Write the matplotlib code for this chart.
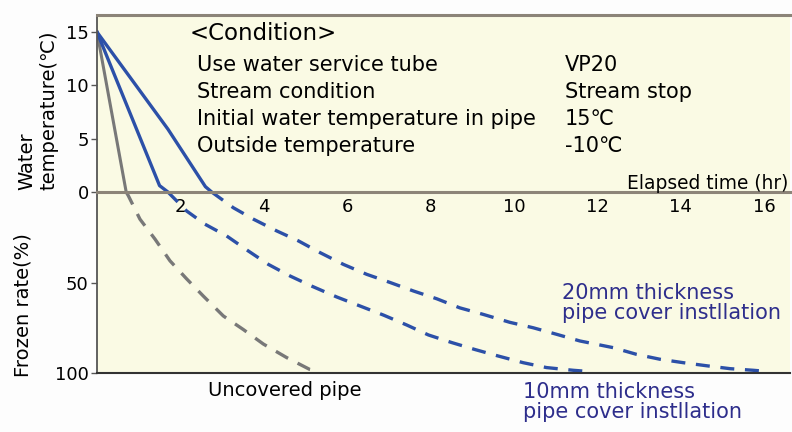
import matplotlib.pyplot as plt

# water temperature (solid) until the pipe reaches 0 C
uncovered_temp_t = [0.0, 0.7]
uncovered_temp = [15, 0]
mm10_temp_t = [0.0, 1.5, 1.7]
mm10_temp = [15, 0.6, 0]
mm20_temp_t = [0.0, 1.7, 2.6, 2.75]
mm20_temp = [15, 5.9, 0.5, 0]

# frozen rate (dashed) after 0 C
uncovered_frozen_t = [0.7, 0.75, 1.03, 1.39, 1.75, 2.15, 2.55, 3.03, 3.51, 3.99, 4.55, 5.1, 5.3]
uncovered_frozen = [0, 2, 15, 26, 38, 48, 57.5, 68.5, 76, 84, 91.5, 98, 99]
mm10_frozen_t = [1.7, 2.15, 2.59, 3.11, 3.63, 4.11, 4.63, 5.15, 5.75, 6.31, 6.87, 7.43, 7.95,
                 8.51, 9.06, 9.62, 10.22, 10.78, 11.42, 11.7]
mm10_frozen = [0, 10.5, 17.8, 24.3, 32.6, 40, 46.4, 52, 58, 63, 68, 73.5, 79,
               83.2, 87, 90.6, 94.3, 97, 98.5, 99]
mm20_frozen_t = [2.75, 3.27, 3.75, 4.31, 4.83, 5.35, 5.91, 6.47, 7.03, 7.59, 8.15, 8.7, 9.26,
                 9.9, 10.46, 11.02, 11.58, 12.38, 12.94, 13.5, 14.06, 14.62, 15.18, 15.74, 16.0]
mm20_frozen = [0, 8.7, 15, 21.5, 27, 33.5, 40, 45.5, 50, 54.7, 59, 64, 67.6,
               72, 75, 78.6, 82.3, 86, 89.7, 92.4, 94.3, 96, 97.6, 98.5, 99]

time_ticks = [2, 4, 6, 8, 10, 12, 14, 16]
temp_ticks = [0, 5, 10, 15]
frozen_ticks = [50, 100]

condition_items = ["Use water service tube", "Stream condition",
                   "Initial water temperature in pipe", "Outside temperature"]
condition_values = ["VP20", "Stream stop", "15℃", "-10℃"]

BLUE = "#2c50a8"
GRAY = "#787878"
NAVY = "#2e2e8c"
PANEL = "#fafae4"
BORDER = "#8c8478"

W, H = 792, 432


def fx(x):
    return x / W


def fy(y):
    return 1 - y / H


plt.rcParams["font.family"] = ["DejaVu Sans"]
fig = plt.figure(figsize=(W / 100, H / 100), dpi=100)
fig.patch.set_facecolor("#fdfdfd")

left, right = 97, 790
ax_t = fig.add_axes([fx(left), fy(192), (right - left) / W, (192 - 15) / H])
ax_f = fig.add_axes([fx(left), fy(373), (right - left) / W, (373 - 192) / H])
ax_f.set_zorder(1)
ax_t.set_zorder(2)

for ax in (ax_t, ax_f):
    ax.set_facecolor(PANEL)
    ax.set_xlim(0, 16.62)
    ax.spines["right"].set_visible(False)
    ax.spines["left"].set_color("#555555")
    ax.spines["left"].set_linewidth(1.3)
    ax.tick_params(axis="y", direction="out", length=4, width=1, color="#555555",
                   pad=2, labelsize=13)

ax_t.set_ylim(0, 16.6)
ax_t.spines["top"].set_color(BORDER)
ax_t.spines["top"].set_linewidth(2.2)
ax_t.spines["bottom"].set_color(BORDER)
ax_t.spines["bottom"].set_linewidth(2.2)
ax_t.set_xticks([])
ax_t.set_yticks(temp_ticks)
ax_t.set_yticklabels([str(v) for v in temp_ticks])

ax_f.set_ylim(100, 0)
ax_f.spines["top"].set_visible(False)
ax_f.spines["bottom"].set_color("#333333")
ax_f.spines["bottom"].set_linewidth(1.5)
ax_f.set_yticks(frozen_ticks)
ax_f.set_yticklabels([str(v) for v in frozen_ticks])
ax_f.set_xticks(time_ticks)
ax_f.set_xticklabels([str(v) for v in time_ticks])
ax_f.tick_params(axis="x", top=True, labeltop=True, bottom=False, labelbottom=False,
                 length=0, pad=-17, labelsize=13)

ax_t.plot(uncovered_temp_t, uncovered_temp, color=GRAY, lw=2.2)
ax_t.plot(mm10_temp_t, mm10_temp, color=BLUE, lw=2.4)
ax_t.plot(mm20_temp_t, mm20_temp, color=BLUE, lw=2.4)

dash = (4.2, 3.2)
ax_f.plot(uncovered_frozen_t, uncovered_frozen, color=GRAY, lw=2.4, dashes=dash,
          clip_on=False)
ax_f.plot(mm10_frozen_t, mm10_frozen, color=BLUE, lw=2.4, dashes=dash, clip_on=False)
ax_f.plot(mm20_frozen_t, mm20_frozen, color=BLUE, lw=2.4, dashes=dash, clip_on=False)

# condition block
fig.text(fx(190), fy(33), "<Condition>", fontsize=16.5, va="center", ha="left")
row_y = [65, 92, 119, 146]
for y, item, value in zip(row_y, condition_items, condition_values):
    fig.text(fx(197), fy(y), item, fontsize=15, va="center", ha="left")
    fig.text(fx(565), fy(y), value, fontsize=15, va="center", ha="left")

fig.text(fx(788), fy(183), "Elapsed time (hr)", fontsize=13.4, va="center", ha="right")

fig.text(fx(38), fy(190), "Water\ntemperature(℃)", fontsize=14, rotation=90,
         ha="center", va="bottom", multialignment="left")
fig.text(fx(23), fy(377), "Frozen rate(%)", fontsize=14, rotation=90,
         ha="center", va="bottom")

fig.text(fx(208), fy(390), "Uncovered pipe", fontsize=14, va="center", ha="left")
fig.text(fx(523), fy(402), "10mm thickness\npipe cover instllation", fontsize=15,
         color=NAVY, va="center", ha="left", linespacing=1.05)
fig.text(fx(562), fy(303), "20mm thickness\npipe cover instllation", fontsize=15,
         color=NAVY, va="center", ha="left", linespacing=1.05)

fig.savefig("out.png", dpi=100, facecolor=fig.get_facecolor())
